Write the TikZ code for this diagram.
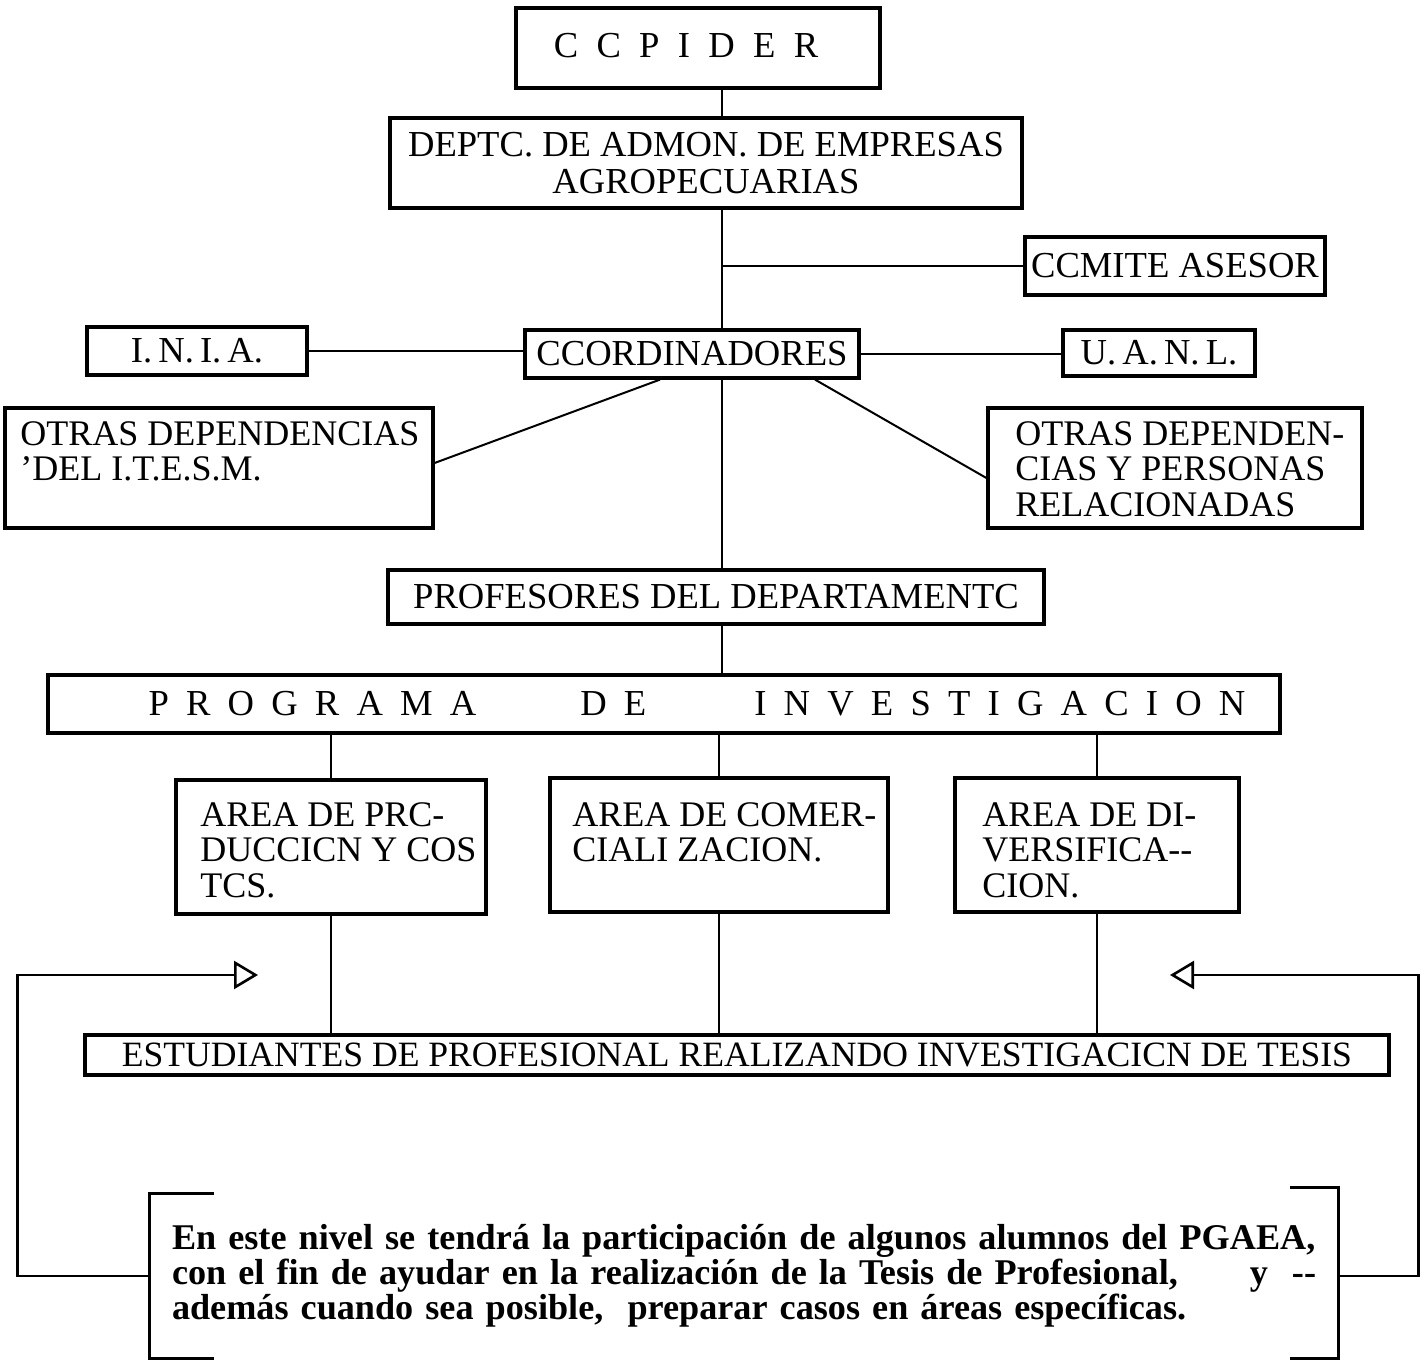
\documentclass[tikz,border=0pt]{standalone}
\usepackage{fontspec}
\setmainfont{Liberation Serif}
\usetikzlibrary{arrows.meta,positioning}
\newcommand{\gapl}{\hspace{8.6pt}}

\begin{document}
\begin{tikzpicture}[
  x=0.5pt,y=-0.5pt,
  box/.style={draw,line width=1.6pt,inner sep=0pt,align=center,
              font=\fontsize{18.3}{18.5}\selectfont},
  txt/.style={inner sep=0pt,anchor=north west,align=left,
              font=\fontsize{18}{17.8}\selectfont},
  link/.style={line width=1pt},
  feed/.style={line width=1.3pt,-{Triangle[open,length=12pt,width=14pt]}},
  bracket/.style={line width=1.6pt}
]
\useasboundingbox (0,0) rectangle (1426,1360);
\coordinate (trunk) at (722,0);

% Top of the chain.
\node[box,minimum width=182pt,minimum height=40pt] (cop) at (698,48)
  {\raisebox{3pt}{C\ \ C\ \ P\ \ I\ \ D\ \ E\ \ R}\hspace{12pt}};
\node[box,minimum width=316pt,minimum height=45pt] (depto) at (706,163)
  {DEPTC. DE ADMON. DE EMPRESAS\\AGROPECUARIAS};
\node[box,minimum width=150pt,minimum height=29pt] (comite) at (1175,266)
  {CCMITE ASESOR};

% Coordination row.
\node[box,minimum width=167pt,minimum height=24pt] (coord) at (692,354)
  {CCORDINADORES};
\node[box,minimum width=110pt,minimum height=24pt] (inia) at (197,351)
  {I.\,N.\,I.\,A.};
\node[box,minimum width=96pt,minimum height=23pt] (uanl) at (1159,353)
  {U.\,A.\,N.\,L.};

\node[box,minimum width=214pt,minimum height=60pt] (otrasL) at (219,468) {};
\node[txt] (otrasLt) at (20,421)
  {OTRAS DEPENDENCIAS\\'DEL I.T.E.S.M.};
\node[box,minimum width=187pt,minimum height=60pt] (otrasR) at (1175,468) {};
\node[txt] (otrasRt) at (1015,421)
  {OTRAS DEPENDEN-\\CIAS Y PERSONAS\\RELACIONADAS};

% Department and research programme.
\node[box,minimum width=328pt,minimum height=27pt] (prof) at (716,597)
  {PROFESORES DEL DEPARTAMENTC};
\node[box,minimum width=616pt,minimum height=29pt] (prog) at (664,704)
  {\hspace{33pt}P\gapl R\gapl O\gapl G\gapl R\gapl A\gapl M\gapl A\hspace{52pt}D\gapl E\hspace{54pt}%
   I\gapl N\gapl V\gapl E\gapl S\gapl T\gapl I\gapl G\gapl A\gapl C\gapl I\gapl O\gapl N};

\node[box,minimum width=155pt,minimum height=67pt] (areaA) at (331,847) {};
\node[txt] (areaAt) at (200,802) {AREA DE PRC-\\DUCCICN Y COS\\TCS.};
\node[box,minimum width=169pt,minimum height=67pt] (areaB) at (719,845) {};
\node[txt] (areaBt) at (572,802) {AREA DE COMER-\\CIALI ZACION.};
\node[box,minimum width=142pt,minimum height=67pt] (areaC) at (1097,845) {};
\node[txt] (areaCt) at (982,802) {AREA DE DI-\\VERSIFICA-{}-\\CION.};

\node[box,minimum width=652pt,minimum height=20pt,font=\fontsize{17.8}{18}\selectfont]
  (est) at (737,1055)
  {ESTUDIANTES DE PROFESIONAL REALIZANDO INVESTIGACICN DE TESIS};

% Note held between two brackets.
\node[inner ysep=0pt,inner xsep=11pt,text width=572pt,minimum height=82pt,align=left,
      font=\bfseries\fontsize{18.1}{17.5}\selectfont] (nota) at (744,1276)
  {En este nivel se tendrá la participación de algunos alumnos del PGAEA,\\
   con el fin de ayudar en la realización de la Tesis de Profesional,\hfill y\hspace{12pt}-{}-\hspace*{2pt}\\
   además cuando sea posible,\ \ preparar casos en áreas específicas.};
\draw[bracket] ([xshift=32pt]nota.north west) -- (nota.north west)
  -- (nota.south west) -- ++(32pt,0);
\draw[bracket] ([xshift=-24pt,yshift=3pt]nota.north east) -- ([yshift=3pt]nota.north east)
  -- (nota.south east) -- ++(-24pt,0);

% Connectors.
\draw[link] (cop.south -| trunk) -- (depto.north -| trunk);
\draw[link] (depto.south -| trunk) -- (coord.north -| trunk);
\draw[link] (comite.west -| trunk) -- (comite.west);
\draw[link] (inia.east) -- (inia.east -| coord.west);
\draw[link] (coord.east) -- (coord.east -| uanl.west);
\draw[link] ([xshift=-16pt]coord.south) -- ([yshift=2.5pt]otrasL.east);
\draw[link] ([xshift=61.5pt]coord.south) -- ([yshift=-5pt]otrasR.west);
\draw[link] (coord.south -| trunk) -- (prof.north -| trunk);
\draw[link] (prof.south -| trunk) -- (prog.north -| trunk);
\foreach \a in {areaA,areaB,areaC} {
  \draw[link] (\a.north) -- (\a.north |- prog.south);
  \draw[link] (\a.south) -- (\a.south |- est.north);
}

% Feedback from the note.
\coordinate (inL) at (258,975);
\coordinate (inR) at (1170,975);
\draw[feed] (nota.west) -- ++(-132,0) |- (inL);
\draw[feed] (nota.east) -- ++(80,0) |- (inR);

\end{tikzpicture}
\end{document}
